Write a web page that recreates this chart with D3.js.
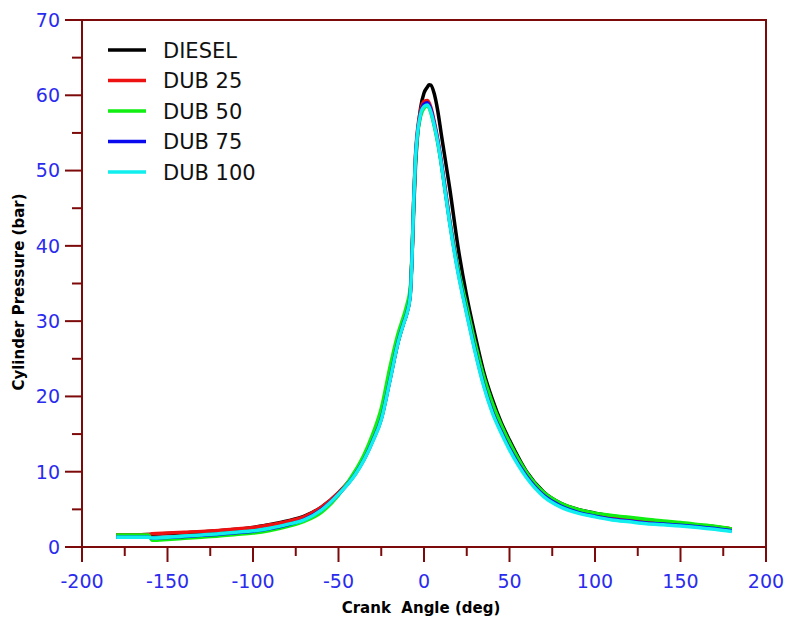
<!DOCTYPE html>
<html>
<head>
<meta charset="utf-8">
<script src="https://cdn.jsdelivr.net/npm/d3@7"></script>
<style>
  body { margin: 0; background: #fff; }
  svg text { font-family: "DejaVu Sans", Verdana, sans-serif; }
</style>
</head>
<body>
<div class="chart"></div>
<script>
// crank angle (deg), shared by all series
var angles = [-180,-170,-161,-159,-150,-140,-130,-120,-110,-100,-90,-80,-70,-60,-50,-40,-35,-30,-25,-20,-15,-12,-10,-8,-7,-6,-5,-4,-2,0,2,3,4,6,8,10,12,15,20,25,30,35,40,45,50,60,70,80,90,100,110,120,130,140,150,160,170,180];

// cylinder pressure (bar)
var diesel = [1.6,1.6,1.65,1.7,1.8,1.9,2.0,2.15,2.35,2.6,3.0,3.45,4.1,5.3,7.2,9.9,11.8,14.2,17.1,22.2,27.4,29.7,31.1,33.8,38.5,45,50.5,54,58.3,60.3,61.1,61.4,61.35,60.2,58,55,52.1,47.7,39.7,33.3,28,23.2,19.6,16.6,14.2,10.0,7.3,5.8,5.0,4.5,4.1,3.8,3.5,3.3,3.1,2.9,2.7,2.4];
var dub25 = [1.6,1.6,1.65,1.75,1.85,1.95,2.05,2.2,2.4,2.6,2.95,3.4,4.05,5.3,7.2,9.9,11.8,14.3,17.2,22.3,27.5,29.8,31.2,34,39,46.5,52,55,58,59.2,59.3,59.0,58.4,56.5,54.2,51.4,48.3,43.5,36.8,31.4,26.3,21.8,18.3,15.6,13.3,9.6,7.0,5.6,4.8,4.3,3.95,3.65,3.4,3.2,3.05,2.9,2.7,2.4];
var dub50 = [1.6,1.6,1.6,0.9,1.0,1.15,1.3,1.45,1.65,1.85,2.2,2.7,3.4,4.6,6.9,10.2,12.3,15.0,18.4,23.8,28.5,30.6,32.2,34.5,39,46,51.3,54.3,57.2,58.3,58.6,58.3,57.7,55.9,53.7,51,47.9,43.3,37,32,27,22.6,19.1,16.3,13.9,9.9,7.25,5.8,5.0,4.5,4.2,3.95,3.7,3.45,3.25,3.0,2.75,2.4];
var dub75 = [1.3,1.3,1.3,1.2,1.25,1.4,1.55,1.7,1.9,2.1,2.45,2.95,3.65,4.95,7.0,9.75,11.65,14.1,17.0,22.1,27.4,29.7,31.1,33.6,38.6,46,51.6,54.6,57.6,58.8,59.0,58.7,58.1,56.2,54.0,51.2,48.0,43.2,36.5,31.1,26.0,21.5,18.0,15.4,13.1,9.4,6.85,5.45,4.6,4.1,3.7,3.45,3.2,3.05,2.9,2.7,2.45,2.15];
var dub100 = [1.3,1.3,1.3,1.2,1.3,1.45,1.6,1.75,1.95,2.15,2.5,3.0,3.6,4.9,7.0,9.7,11.6,14.0,16.9,22.0,27.3,29.6,31.0,33.5,38.5,46,51.5,54.5,57.5,58.5,58.7,58.4,57.8,56,53.8,51,47.8,43,36.3,30.9,25.8,21.3,17.8,15.2,12.9,9.2,6.7,5.3,4.5,4.0,3.6,3.35,3.1,2.95,2.8,2.6,2.35,2.05];

var seriesNames = ["DIESEL", "DUB 25", "DUB 50", "DUB 75", "DUB 100"];
var seriesValues = [diesel, dub25, dub50, dub75, dub100];
var seriesColors = ["#000000", "#ee1111", "#11ee11", "#0a0aee", "#11eeee"];

var xTicks = [-200, -150, -100, -50, 0, 50, 100, 150, 200];
var yTicks = [0, 10, 20, 30, 40, 50, 60, 70];

var width = 787, height = 618;
var margin = {left: 82, right: 21, top: 20, bottom: 71};
var frame = "#7d0a0a";
var tickBlue = "#2b2bee";

var svg = d3.select(".chart").append("svg")
  .attr("width", width).attr("height", height);

var x = d3.scaleLinear().domain([-200, 200]).range([margin.left, width - margin.right]);
var y = d3.scaleLinear().domain([0, 70]).range([height - margin.bottom, margin.top]);

// major + minor ticks
var xMinor = d3.range(-200, 201, 25);
var yMinor = d3.range(0, 71, 5);

svg.append("g").selectAll("line").data(xMinor).enter().append("line")
  .attr("x1", d => x(d)).attr("x2", d => x(d))
  .attr("y1", y(0)).attr("y2", d => y(0) + (d % 50 === 0 ? 15 : 9))
  .attr("stroke", frame).attr("stroke-width", 2);

svg.append("g").selectAll("line").data(yMinor).enter().append("line")
  .attr("y1", d => y(d)).attr("y2", d => y(d))
  .attr("x1", x(-200)).attr("x2", d => x(-200) - (d % 10 === 0 ? 17 : 10))
  .attr("stroke", frame).attr("stroke-width", 2);

// tick labels
svg.append("g").selectAll("text").data(xTicks).enter().append("text")
  .attr("x", d => x(d)).attr("y", y(0) + 41)
  .attr("text-anchor", "middle")
  .attr("font-size", 19).attr("fill", tickBlue)
  .text(d => d);

svg.append("g").selectAll("text").data(yTicks).enter().append("text")
  .attr("x", x(-200) - 22).attr("y", d => y(d))
  .attr("dy", "0.36em")
  .attr("text-anchor", "end")
  .attr("font-size", 19).attr("fill", tickBlue)
  .text(d => d);

// series lines
var line = d3.line()
  .x(function(d, i) { return x(angles[i]); })
  .y(function(d) { return y(d); })
  .curve(d3.curveMonotoneX);

svg.append("g").selectAll("path").data(seriesValues).enter().append("path")
  .attr("d", line)
  .attr("fill", "none")
  .attr("stroke", (d, i) => seriesColors[i])
  .attr("stroke-width", 3.5)
  .attr("stroke-linejoin", "round");

// frame
svg.append("rect")
  .attr("x", x(-200)).attr("y", y(70))
  .attr("width", x(200) - x(-200)).attr("height", y(0) - y(70))
  .attr("fill", "none").attr("stroke", frame).attr("stroke-width", 2);

// legend
var legend = svg.append("g");
seriesNames.forEach(function(name, i) {
  var ly = 50 + i * 30.5;
  legend.append("line")
    .attr("x1", 108).attr("x2", 146).attr("y1", ly).attr("y2", ly)
    .attr("stroke", seriesColors[i]).attr("stroke-width", 3.5);
  legend.append("text")
    .attr("x", 163).attr("y", ly).attr("dy", "0.36em")
    .attr("font-size", 21).attr("fill", "#111")
    .text(name);
});

// axis titles
svg.append("text")
  .attr("x", 421).attr("y", 613)
  .attr("text-anchor", "middle")
  .attr("font-size", 15).attr("font-weight", "bold")
  .style("white-space", "pre")
  .text("Crank  Angle (deg)");

svg.append("text")
  .attr("transform", "translate(24,292) rotate(-90)")
  .attr("text-anchor", "middle")
  .attr("font-size", 15).attr("font-weight", "bold")
  .text("Cylinder Pressure (bar)");
</script>
</body>
</html>
